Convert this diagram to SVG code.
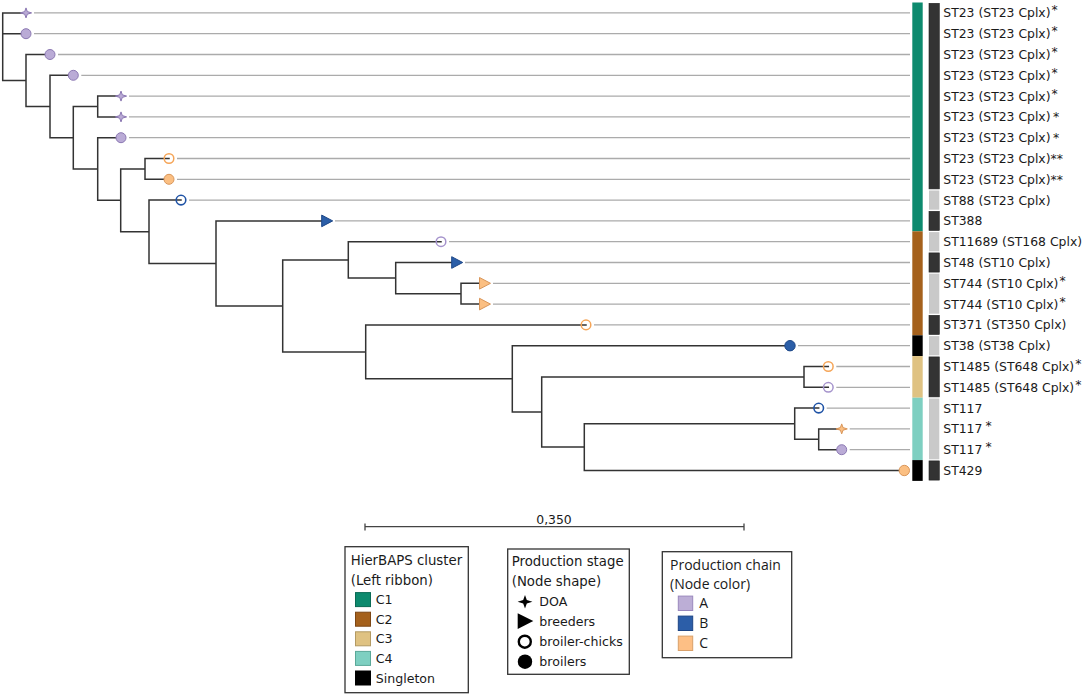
<svg xmlns="http://www.w3.org/2000/svg" xmlns:xlink="http://www.w3.org/1999/xlink" width="1084" height="695" viewBox="0 0 1084 695">
<style>
text{font-family:"DejaVu Sans","Liberation Sans",sans-serif;fill:#1a1a1a}
.lab{font-size:12.4px}
.br{stroke:#333;stroke-width:1.5;fill:none;stroke-linecap:square}
.lf{stroke:#ababab;stroke-width:1.3;fill:none}
.cA{fill:#baabd6;stroke:#8c79b3;stroke-width:1}
.cB{fill:#2c5fa8;stroke:#1d4788;stroke-width:1}
.cC{fill:#fbbf82;stroke:#d9965a;stroke-width:1}
.oA{fill:none;stroke:#a593cc;stroke-width:1.5}
.oB{fill:none;stroke:#1f53a6;stroke-width:1.6}
.oC{fill:none;stroke:#f5a558;stroke-width:1.5}
.dk{fill:#333;stroke:#222;stroke-width:0.6}
.lt{fill:#c9c9c9}
.box{fill:#fff;stroke:#333;stroke-width:1.3}
.lt1{font-size:13.3px}
.li1{font-size:12.6px}
.lt3{font-family:"Open Sans","DejaVu Sans",sans-serif;font-size:14px}
</style>
<defs>
<path id="doa" d="M0,-5 L1.3,-1.3 L5.6,0 L1.3,1.3 L0,5 L-1.3,1.3 L-5.6,0 L-1.3,-1.3Z"/>
<path id="tri" d="M-5.5,-5.8 L5.5,0 L-5.5,5.8Z"/>
</defs>
<rect width="1084" height="695" fill="#fff"/>

<g id="connectors">
<path class="br" d="M2.7,12.9 V80.5 M2.7,12.9 H26 M2.7,33.7 H26 M2.7,80.5 H26
M26,54.5 V106.5 M26,54.5 H50 M26,106.5 H50
M50,75.3 V137.75 M50,75.3 H73.3 M50,137.75 H73.3
M73.3,106.5 V169 M73.3,106.5 H97.7 M73.3,169 H97.7
M97.7,96.1 V116.9 M97.7,96.1 H121 M97.7,116.9 H121
M97.7,137.7 V200.3 M97.7,137.7 H121 M97.7,200.3 H120.7
M120.7,168.9 V231.75 M120.7,168.9 H145 M120.7,231.75 H149
M145,158.5 V179.3 M145,158.5 H169 M145,179.3 H169
M149,200.1 V263.4 M149,200.1 H181 M149,263.4 H216
M216,220.9 V305.9 M216,220.9 H324 M216,305.9 H282.7
M282.7,259.9 V351.9 M282.7,259.9 H348.3 M282.7,351.9 H365.7
M348.3,241.7 V278.1 M348.3,241.7 H441 M348.3,278.1 H395.7
M395.7,262.5 V293.7 M395.7,262.5 H454 M395.7,293.7 H461
M461,283.3 V304.1 M461,283.3 H482 M461,304.1 H482
M365.7,324.9 V378.85 M365.7,324.9 H586 M365.7,378.85 H512.3
M512.3,345.7 V412 M512.3,345.7 H790 M512.3,412 H541.7
M541.7,376.9 V447.1 M541.7,376.9 H804 M541.7,447.1 H584.3
M804,366.5 V387.3 M804,366.5 H828.3 M804,387.3 H828.3
M584.3,423.7 V470.5 M584.3,423.7 H794.7 M584.3,470.5 H904.3
M794.7,408.1 V439.3 M794.7,408.1 H818.7 M794.7,439.3 H818.7
M818.7,428.9 V449.7 M818.7,428.9 H841.7 M818.7,449.7 H841.7"/>
<path class="lf" d="M34,12.9 H910 M34,33.7 H910 M58,54.5 H910 M81.3,75.3 H910 M129,96.1 H910 M129,116.9 H910 M129,137.7 H910 M177,158.5 H910 M177,179.3 H910 M189,200.1 H910 M335,220.9 H910 M449,241.7 H910 M465,262.5 H910 M493,283.3 H910 M493,304.1 H910 M594,324.9 H910 M798,345.7 H910 M836.3,366.5 H910 M836.3,387.3 H910 M826.7,408.1 H910 M849.7,428.9 H910 M849.7,449.7 H910"/>
</g>

<g id="ribbon-hierbaps">
<rect x="912.3" y="2.5" width="10.4" height="228.8" fill="#0d8a6e"/>
<rect x="912.3" y="231.3" width="10.4" height="104" fill="#a5611c"/>
<rect x="912.3" y="335.3" width="10.4" height="20.8" fill="#000"/>
<rect x="912.3" y="356.1" width="10.4" height="41.6" fill="#dfc282"/>
<rect x="912.3" y="397.7" width="10.4" height="62.4" fill="#7ecfc1"/>
<rect x="912.3" y="460.1" width="10.4" height="20.8" fill="#000"/>
</g>
<g id="ribbon-st">
<rect class="dk" x="929" y="3.3" width="10.3" height="185.6"/>
<rect class="lt" x="929" y="190.5" width="10.3" height="19.2"/>
<rect class="dk" x="929" y="211.3" width="10.3" height="19.2"/>
<rect class="lt" x="929" y="232.1" width="10.3" height="19.2"/>
<rect class="dk" x="929" y="252.9" width="10.3" height="19.2"/>
<rect class="lt" x="929" y="273.7" width="10.3" height="40"/>
<rect class="dk" x="929" y="315.3" width="10.3" height="19.2"/>
<rect class="lt" x="929" y="336.1" width="10.3" height="19.2"/>
<rect class="dk" x="929" y="356.9" width="10.3" height="40"/>
<rect class="lt" x="929" y="398.5" width="10.3" height="60.8"/>
<rect class="dk" x="929" y="460.9" width="10.3" height="19.2"/>
</g>

<g id="leaf1"><use href="#doa" x="26" y="12.9" class="cA"/><text class="lab" x="943.3" y="17.4">ST23 (ST23 Cplx)<tspan dx="1" dy="-3">*</tspan></text></g>
<g id="leaf2"><circle cx="26" cy="33.7" r="5" class="cA"/><text class="lab" x="943.3" y="38.2">ST23 (ST23 Cplx)<tspan dx="1" dy="-3">*</tspan></text></g>
<g id="leaf3"><circle cx="50" cy="54.5" r="5" class="cA"/><text class="lab" x="943.3" y="59">ST23 (ST23 Cplx)<tspan dx="1" dy="-3">*</tspan></text></g>
<g id="leaf4"><circle cx="73.3" cy="75.3" r="5" class="cA"/><text class="lab" x="943.3" y="79.8">ST23 (ST23 Cplx)<tspan dx="1" dy="-3">*</tspan></text></g>
<g id="leaf5"><use href="#doa" x="121" y="96.1" class="cA"/><text class="lab" x="943.3" y="100.6">ST23 (ST23 Cplx)<tspan dx="1" dy="-3">*</tspan></text></g>
<g id="leaf6"><use href="#doa" x="121" y="116.9" class="cA"/><text class="lab" x="943.3" y="121.4">ST23 (ST23 Cplx)<tspan dx="2.5">*</tspan></text></g>
<g id="leaf7"><circle cx="121" cy="137.7" r="5" class="cA"/><text class="lab" x="943.3" y="142.2">ST23 (ST23 Cplx)<tspan dx="2.5">*</tspan></text></g>
<g id="leaf8"><circle cx="169" cy="158.5" r="4.8" class="oC"/><text class="lab" x="943.3" y="163">ST23 (ST23 Cplx)**</text></g>
<g id="leaf9"><circle cx="169" cy="179.3" r="5" class="cC"/><text class="lab" x="943.3" y="183.8">ST23 (ST23 Cplx)**</text></g>
<g id="leaf10"><circle cx="181" cy="200.1" r="4.8" class="oB"/><text class="lab" x="943.3" y="204.6">ST88 (ST23 Cplx)</text></g>
<g id="leaf11"><use href="#tri" x="327.2" y="220.9" class="cB"/><text class="lab" x="943.3" y="225.4">ST388</text></g>
<g id="leaf12"><circle cx="441" cy="241.7" r="4.8" class="oA"/><text class="lab" x="943.3" y="246.2">ST11689 (ST168 Cplx)</text></g>
<g id="leaf13"><use href="#tri" x="457.2" y="262.5" class="cB"/><text class="lab" x="943.3" y="267">ST48 (ST10 Cplx)</text></g>
<g id="leaf14"><use href="#tri" x="485" y="283.3" class="cC"/><text class="lab" x="943.3" y="287.8">ST744 (ST10 Cplx)<tspan dx="1" dy="-3">*</tspan></text></g>
<g id="leaf15"><use href="#tri" x="485" y="304.1" class="cC"/><text class="lab" x="943.3" y="308.6">ST744 (ST10 Cplx)<tspan dx="1" dy="-3">*</tspan></text></g>
<g id="leaf16"><circle cx="586" cy="324.9" r="4.8" class="oC"/><text class="lab" x="943.3" y="329.4">ST371 (ST350 Cplx)</text></g>
<g id="leaf17"><circle cx="790" cy="345.7" r="5.2" class="cB"/><text class="lab" x="943.3" y="350.2">ST38 (ST38 Cplx)</text></g>
<g id="leaf18"><circle cx="828.3" cy="366.5" r="4.8" class="oC"/><text class="lab" x="943.3" y="371">ST1485 (ST648 Cplx)<tspan dx="1" dy="-3">*</tspan></text></g>
<g id="leaf19"><circle cx="828.3" cy="387.3" r="4.8" class="oA"/><text class="lab" x="943.3" y="391.8">ST1485 (ST648 Cplx)<tspan dx="1" dy="-3">*</tspan></text></g>
<g id="leaf20"><circle cx="818.7" cy="408.1" r="4.8" class="oB"/><text class="lab" x="943.3" y="412.6">ST117</text></g>
<g id="leaf21"><use href="#doa" x="841.7" y="428.9" class="cC"/><text class="lab" x="943.3" y="433.4">ST117<tspan dx="3" dy="-3.5">*</tspan></text></g>
<g id="leaf22"><circle cx="841.7" cy="449.7" r="5" class="cA"/><text class="lab" x="943.3" y="454.2">ST117<tspan dx="3" dy="-3.5">*</tspan></text></g>
<g id="leaf23"><circle cx="904.3" cy="470.5" r="5.2" class="cC"/><text class="lab" x="943.3" y="475">ST429</text></g>

<g id="scale-bar">
<path d="M365,526.7 H744 M365,523.5 V530.5 M744,523.5 V530.5" stroke="#444" stroke-width="1.3" fill="none"/>
<text x="554" y="524" font-size="12.4" text-anchor="middle">0,350</text>
</g>

<g id="legend-hierbaps">
<rect class="box" x="345" y="546.7" width="123.3" height="146"/>
<text class="lt1" x="350.7" y="565">HierBAPS cluster</text>
<text class="lt1" x="350.7" y="585">(Left ribbon)</text>
<rect x="355.5" y="592.6" width="15" height="14" fill="#0d8a6e" stroke="#0a6a54"/>
<text class="li1" x="375.7" y="604.2">C1</text>
<rect x="355.5" y="612.2" width="15" height="14" fill="#a5611c" stroke="#7c4614"/>
<text class="li1" x="375.7" y="623.8">C2</text>
<rect x="355.5" y="631.8" width="15" height="14" fill="#dfc282" stroke="#b39a63"/>
<text class="li1" x="375.7" y="643.4">C3</text>
<rect x="355.5" y="651.4" width="15" height="14" fill="#7ecfc1" stroke="#5aa898"/>
<text class="li1" x="375.7" y="663">C4</text>
<rect x="355.5" y="671" width="15" height="14" fill="#000" stroke="#000"/>
<text class="li1" x="375.7" y="682.6">Singleton</text>
</g>

<g id="legend-stage">
<rect class="box" x="507.7" y="549" width="121.6" height="125.3"/>
<text class="lt1" x="511.7" y="566">Production stage</text>
<text class="lt1" x="511.7" y="586">(Node shape)</text>
<path d="M525,594.9 L526.8,599.9 L532.4,601.7 L526.8,603.5 L525,608.5 L523.2,603.5 L517.6,601.7 L523.2,599.9Z" fill="#000"/>
<text class="li1" x="539.3" y="606.3">DOA</text>
<path d="M517.7,613.3 L533.3,621 L517.7,628.9Z" fill="#000"/>
<text class="li1" x="539.3" y="626">breeders</text>
<circle cx="524.8" cy="641.7" r="6" fill="none" stroke="#000" stroke-width="2.4"/>
<text class="li1" x="539.3" y="646.4">broiler-chicks</text>
<circle cx="525" cy="661.7" r="7.2" fill="#000"/>
<text class="li1" x="539.3" y="666.4">broilers</text>
</g>

<g id="legend-chain">
<rect class="box" x="662.3" y="551.7" width="129.4" height="106"/>
<text class="lt3" x="670" y="569.5">Production chain</text>
<text class="lt3" x="670" y="589">(Node color)</text>
<rect x="678.3" y="596.1" width="14.4" height="14.4" fill="#bcaed6" stroke="#9a88bd"/>
<text class="lt3" x="699.3" y="608.3">A</text>
<rect x="678.3" y="616.1" width="14.4" height="14.4" fill="#2c5ea8" stroke="#1d4585"/>
<text class="lt3" x="699.3" y="628.3">B</text>
<rect x="678.3" y="636.1" width="14.4" height="14.4" fill="#fdbf85" stroke="#d9a06a"/>
<text class="lt3" x="699.3" y="648.3">C</text>
</g>
</svg>
